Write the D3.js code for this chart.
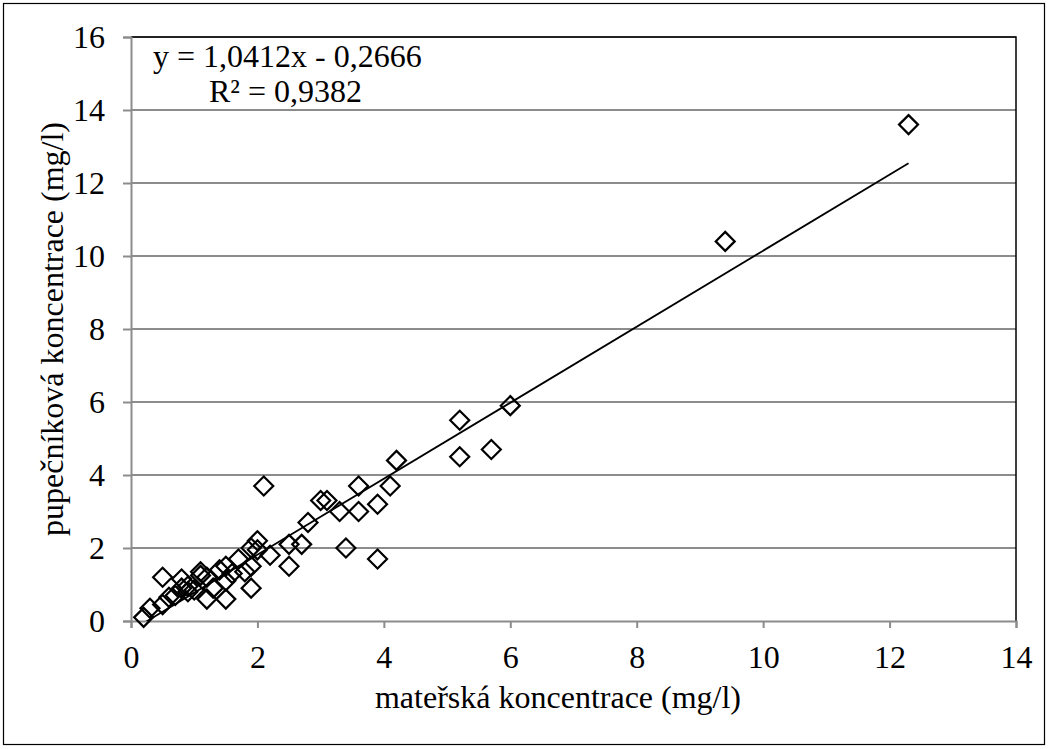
<!DOCTYPE html>
<html><head><meta charset="utf-8">
<script src="https://cdn.jsdelivr.net/npm/d3@7"></script>
<style>body{margin:0;background:#fff}svg{display:block}svg text{font-family:'Liberation Serif','Times New Roman',serif !important}</style>
</head><body>
<svg id="c" width="1049" height="749"></svg>
<script>
const xVals = [12.3,9.4,6.0,5.2,5.2,5.7,4.2,4.1,3.6,3.6,3.9,3.3,3.1,3.0,2.8,2.7,2.5,2.5,3.4,3.9,2.1,2.2,2.0,2.0,1.9,1.9,1.9,1.8,1.7,1.5,1.5,1.5,1.3,1.2,1.1,1.1,0.9,0.8,0.7,0.6,0.5,0.5,0.3,0.2,1.0,0.9,1.6,1.4,0.8,1.2];
const yVals = [13.6,10.4,5.9,5.5,4.5,4.7,4.4,3.7,3.7,3.0,3.2,3.0,3.3,3.3,2.7,2.1,2.1,1.5,2.0,1.7,3.7,1.8,2.2,1.95,2.0,1.5,0.9,1.35,1.7,1.5,1.1,0.6,0.9,0.6,1.25,1.35,0.95,1.15,0.7,0.65,1.2,0.45,0.35,0.1,0.85,0.8,1.3,1.4,0.9,1.2];
const xTicks = [0,2,4,6,8,10,12,14];
const yTicks = [0,2,4,6,8,10,12,14,16];
const slope = 1.0412, intercept = -0.2666;
const eqText = "y = 1,0412x - 0,2666";
const r2Text = "R² = 0,9382";
const xTitle = "mateřská koncentrace (mg/l)";
const yTitle = "pupečníková koncentrace (mg/l)";

const svg = d3.select("#c");
const font = "'Liberation Serif','Times New Roman',serif";
const FS = 32;
const L = 131, R = 1016, T = 37, B = 621;
const x = d3.scaleLinear().domain([0,14]).range([L,R]);
const y = d3.scaleLinear().domain([0,16]).range([B,T]);

svg.append("rect").attr("x",3.5).attr("y",3.5).attr("width",1041).attr("height",741)
  .attr("fill","#fff").attr("stroke","#000").attr("stroke-width",1.2);

// gridlines
svg.append("g").selectAll("line").data(yTicks.filter(d=>d>0)).join("line")
  .attr("x1",L).attr("x2",R).attr("y1",d=>y(d)).attr("y2",d=>y(d))
  .attr("stroke","#8c8c8c").attr("stroke-width",2);

// plot border top/right
svg.append("path").attr("d",`M${L},${T}H${R}V${B}`).attr("fill","none").attr("stroke","#000").attr("stroke-width",1.5);

// axes
const xAxis = d3.axisBottom(x).tickValues(xTicks).tickSize(7);
const gx = svg.append("g").attr("transform",`translate(0,${B})`).call(xAxis);
gx.selectAll(".tick text").attr("y",47).attr("dy",null);
const yAxis = d3.axisLeft(y).tickValues(yTicks).tickSize(8).tickPadding(18);
const gy = svg.append("g").attr("transform",`translate(${L},0)`).call(yAxis);
gy.selectAll(".tick text").attr("dy","0.34em");
[gx,gy].forEach(g=>{
  g.attr("font-family",font).attr("font-size",FS);
  g.select(".domain").attr("stroke","#8c8c8c").attr("stroke-width",2);
  g.selectAll(".tick line").attr("stroke","#8c8c8c").attr("stroke-width",2);
  g.selectAll("text").attr("font-family",font).style("font-size",FS+"px").attr("fill","#000");
});

// trendline
svg.append("clipPath").attr("id","pc").append("rect").attr("x",L).attr("y",T).attr("width",R-L).attr("height",B-T);
const xmin = d3.min(xVals), xmax = d3.max(xVals);
svg.append("line").attr("clip-path","url(#pc)")
  .attr("x1",x(xmin)).attr("y1",y(slope*xmin+intercept))
  .attr("x2",x(xmax)).attr("y2",y(slope*xmax+intercept))
  .attr("stroke","#000").attr("stroke-width",1.8);

// points
const pts = xVals.map((v,i)=>[v,yVals[i]]);
const s = 9.5;
svg.append("g").selectAll("path").data(pts).join("path")
  .attr("d",d=>{const cx=x(d[0]), cy=y(d[1]);return `M${cx},${cy-s}L${cx+s},${cy}L${cx},${cy+s}L${cx-s},${cy}Z`;})
  .attr("fill","none").attr("stroke","#000").attr("stroke-width",2.2);

// equation
svg.append("text").attr("x",153).attr("y",67).style("font-size",FS+"px").text(eqText);
svg.append("text").attr("x",209).attr("y",102).style("font-size",FS+"px").text(r2Text);

// titles
svg.append("text").attr("x",558).attr("y",708).attr("text-anchor","middle")
  .style("font-size",FS+"px").text(xTitle);
svg.append("text").attr("transform",`translate(63,${(T+B)/2}) rotate(-90)`).attr("text-anchor","middle")
  .style("font-size",FS+"px").text(yTitle);
</script>
</body></html>
